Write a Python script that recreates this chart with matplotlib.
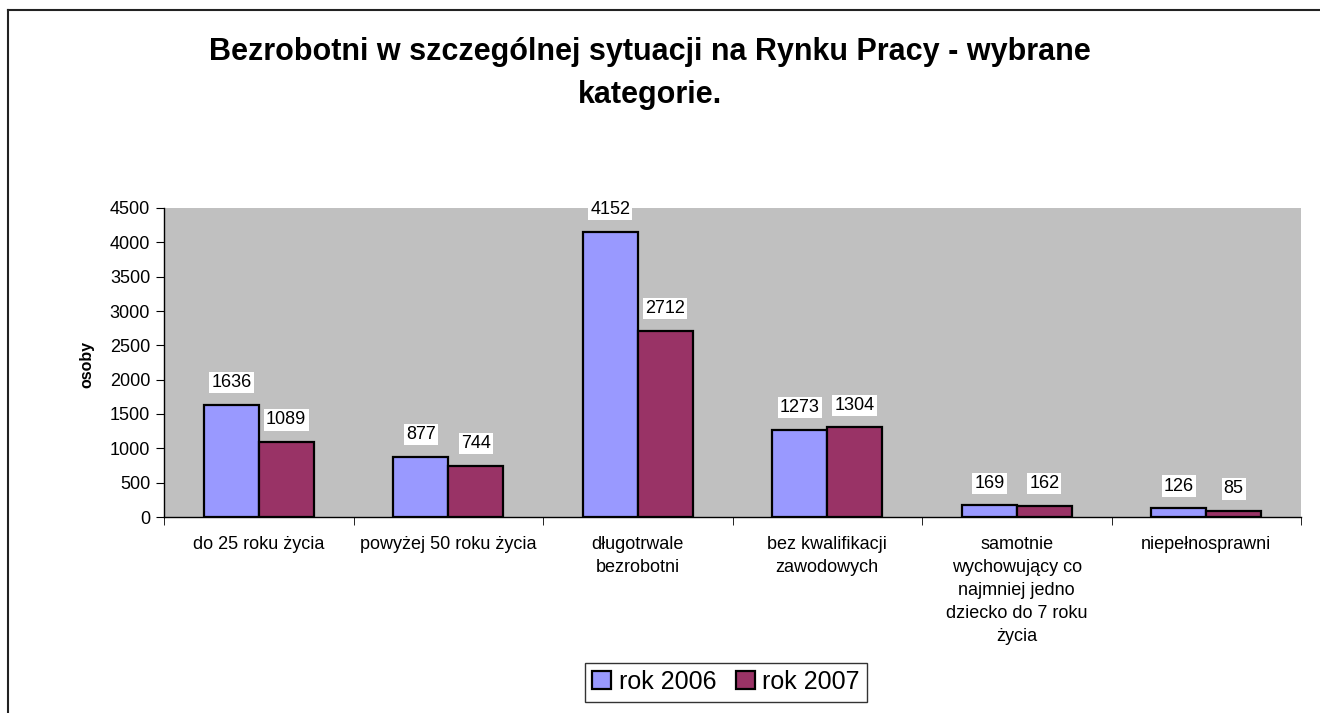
import matplotlib
matplotlib.use("Agg")
import matplotlib.pyplot as plt
import numpy as np
from matplotlib.patches import Patch
from matplotlib.lines import Line2D

categories = ["do 25 roku życia", "powyżej 50 roku życia", "długotrwale\nbezrobotni",
              "bez kwalifikacji\nzawodowych",
              "samotnie\nwychowujący co\nnajmniej jedno\ndziecko do 7 roku\nżycia",
              "niepełnosprawni"]
series_names = ["rok 2006", "rok 2007"]
values_2006 = [1636, 877, 4152, 1273, 169, 126]
values_2007 = [1089, 744, 2712, 1304, 162, 85]
yticks = [0, 500, 1000, 1500, 2000, 2500, 3000, 3500, 4000, 4500]
title = "Bezrobotni w szczególnej sytuacji na Rynku Pracy - wybrane\nkategorie."
ylabel = "osoby"

plt.rcParams['font.family'] = ['Liberation Sans', 'DejaVu Sans']

W, H = 1320, 713
fig = plt.figure(figsize=(W / 100, H / 100), dpi=100)
fig.patch.set_facecolor("white")

# figure border (left and top visible)
fig.add_artist(Line2D([8 / W, 8 / W], [0, 1 - 10 / H], transform=fig.transFigure,
                      color="#222222", lw=1.5))
fig.add_artist(Line2D([8 / W, 1], [1 - 10 / H, 1 - 10 / H], transform=fig.transFigure,
                      color="#222222", lw=1.5))

left, right = 164 / W, 1301 / W
bottom, top = 1 - 517 / H, 1 - 208 / H
ax = fig.add_axes([left, bottom, right - left, top - bottom])
ax.set_facecolor("#C0C0C0")

n = len(categories)
x = np.arange(n)
bw = 0.29
colors = ["#9999FF", "#993366"]
b1 = ax.bar(x - bw / 2, values_2006, bw, color=colors[0], edgecolor="black", linewidth=1.6, zorder=3)
b2 = ax.bar(x + bw / 2, values_2007, bw, color=colors[1], edgecolor="black", linewidth=1.6, zorder=3)

for bars, vals in ((b1, values_2006), (b2, values_2007)):
    for rect, v in zip(bars, vals):
        ax.annotate(str(v), (rect.get_x() + rect.get_width() / 2, v),
                    xytext=(0, 16), textcoords="offset points",
                    ha="center", va="center", fontsize=13,
                    bbox=dict(boxstyle="square,pad=0.12", fc="white", ec="none"),
                    zorder=5)

ax.set_xlim(-0.5, n - 0.5)
ax.set_ylim(0, 4500)
ax.set_yticks(yticks)
ax.set_yticklabels([str(t) for t in yticks], fontsize=13)
ax.set_xticks(x)
ax.set_xticklabels(categories, fontsize=13, linespacing=1.45, va="top")
ax.tick_params(axis="x", length=0, pad=14)
ax.set_xticks(np.arange(n + 1) - 0.5, minor=True)
ax.tick_params(axis="x", which="minor", length=6, direction="out", color="black")
ax.tick_params(axis="y", length=6, direction="out", color="black", pad=4)

for s in ["top", "right"]:
    ax.spines[s].set_visible(False)
ax.spines["left"].set_color("black")
ax.spines["bottom"].set_color("black")
ax.spines["left"].set_linewidth(1.0)
ax.spines["bottom"].set_linewidth(1.0)

fig.text(87 / W, 1 - 365 / H, ylabel, rotation=90, ha="center", va="center",
         fontsize=11.5, fontweight="bold")

fig.text(650 / W, 1 - 37 / H, title, ha="center", va="top", fontsize=22,
         fontweight="bold", linespacing=1.55)

handles = [Patch(facecolor=c, edgecolor="black", linewidth=1.6) for c in colors]
leg = fig.legend(handles, series_names, loc="center", bbox_to_anchor=(726 / W, 1 - 682 / H),
                 ncol=2, fontsize=18, frameon=True, fancybox=False, edgecolor="black",
                 handlelength=0.75, handleheight=0.75, handletextpad=0.3, columnspacing=0.8,
                 borderpad=0.3, borderaxespad=0)
leg.get_frame().set_linewidth(1.0)

fig.savefig("out.png", dpi=100)
